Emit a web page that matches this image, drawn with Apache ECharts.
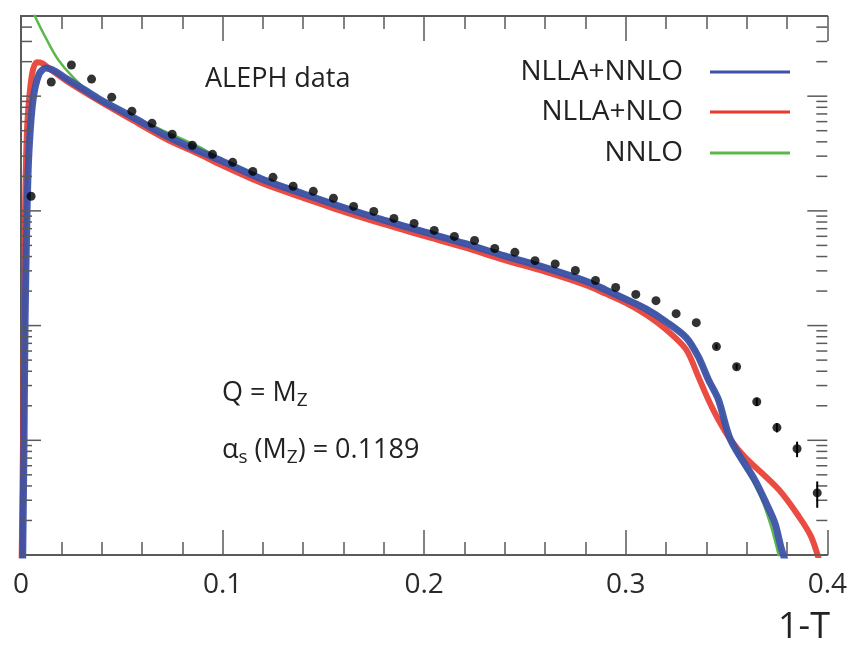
<!DOCTYPE html>
<html>
<head>
<meta charset="utf-8">
<script src="https://cdn.jsdelivr.net/npm/echarts@6/dist/echarts.min.js"></script>
<style>
html,body{margin:0;padding:0;background:#fff;}
#chart{width:850px;height:652px;}
</style>
</head>
<body>
<div id="chart"></div>
<script>
// ALEPH data: bin centres (1-T) and values
const dataX = [0.005,0.015,0.025,0.035,0.045,0.055,0.065,0.075,0.085,0.095,
               0.105,0.115,0.125,0.135,0.145,0.155,0.165,0.175,0.185,0.195,
               0.205,0.215,0.225,0.235,0.245,0.255,0.265,0.275,0.285,0.295,
               0.305,0.315,0.325,0.335,0.345,0.355,0.365,0.375,0.385,0.395];
const dataY = [1.34,13.3,18.7,14.1,9.8,7.4,5.8,4.66,3.73,3.11,
               2.65,2.21,1.96,1.64,1.48,1.29,1.094,0.99,0.86,0.778,
               0.676,0.599,0.552,0.47,0.435,0.368,0.345,0.302,0.247,0.215,
               0.187,0.165,0.127,0.106,0.0656,0.0438,0.0217,0.0129,0.00843,0.00348];
const dataErr = [0,0,0,0,0,0,0,0,0,0,
                 0,0,0,0,0,0,0,0,0,0,
                 0,0,0,0,0,0,0,0,0,0,
                 0,0,0,0,0.003,0.0025,0.0018,0.0012,0.0013,0.0009];

// NLLA+NNLO (blue)
const nnllaX = [0.0008,0.0015,0.002,0.003,0.004,0.006,0.009,0.0124,0.017,0.0228,
                0.0317,0.039,0.0554,0.0723,0.0886,0.10,0.12,0.14,0.16,0.18,
                0.20,0.22,0.24,0.26,0.28,0.29,0.30,0.31,0.32,0.330,
                0.336,0.341,0.346,0.352,0.364,0.369,0.374,0.377,0.380];
const nnllaY = [0.0008,0.01,0.1,1.0,3.4,9.4,15.6,17.6,16.5,14.1,
                11.3,9.4,6.56,4.48,3.3,2.7,1.88,1.41,1.07,0.83,
                0.655,0.52,0.405,0.32,0.245,0.205,0.17,0.14,0.108,0.0786,
                0.0536,0.0338,0.0226,0.0101,0.00452,0.0030,0.0019,0.00117,0.0008];

// NLLA+NLO (red)
const nlaX = [0.0003,0.001,0.0015,0.002,0.003,0.0045,0.006,0.008,0.0104,0.0144,
              0.0228,0.039,0.0554,0.0723,0.0886,0.10,0.12,0.14,0.16,0.18,
              0.20,0.22,0.24,0.26,0.28,0.29,0.30,0.31,0.32,0.330,
              0.336,0.341,0.346,0.352,0.359,0.376,0.386,0.392,0.3968];
const nlaY = [0.0008,0.01,0.1,1.0,5.15,11.5,17.2,19.8,19.4,17.2,
              13.5,9.04,6.17,4.21,3.11,2.48,1.73,1.3,0.985,0.765,
              0.605,0.48,0.372,0.295,0.226,0.19,0.158,0.125,0.0923,0.0617,
              0.0359,0.0226,0.0151,0.0101,0.00718,0.0037,0.00215,0.00144,0.0008];

// NNLO (green)
const nnloX = [0.0055,0.0069,0.0134,0.0183,0.0252,0.0332,0.0431,0.055,0.0723,0.0886,
               0.10,0.12,0.14,0.16,0.18,0.20,0.22,0.24,0.26,0.28,
               0.29,0.30,0.31,0.32,0.330,0.336,0.341,0.346,0.352,0.363,
               0.368,0.372,0.375,0.377];
const nnloY = [62,50,29.6,21,15,11.1,8.5,6.7,4.85,3.6,
               2.78,1.94,1.45,1.10,0.855,0.675,0.535,0.417,0.33,0.252,
               0.212,0.175,0.144,0.111,0.08,0.055,0.034,0.0225,0.0098,0.0044,
               0.0029,0.0018,0.00115,0.0008];

// Axis ticks
const xTickLabels = ['0','0.1','0.2','0.3','0.4'];
const yMajorTicks = [0.001,0.01,0.1,1,10];
const yMinorFactors = [2,3,4,5,6,7,8,9];

const X_MIN = 0, X_MAX = 0.4, Y_MIN = 0.001, Y_MAX = 50;

const zip = (xs, ys) => xs.map((x, i) => [x, ys[i]]);

const yTickData = [];
yMajorTicks.forEach(v => {
  yTickData.push([X_MIN, v, 1]);
  yMinorFactors.forEach(f => { const m = v * f; if (m < Y_MAX) yTickData.push([X_MIN, m, 0]); });
});

const errData = dataX.map((x, i) => [x, dataY[i], dataErr[i]]).filter(d => d[2] > 0);

const FONT = '"Open Sans", "Noto Sans", sans-serif';
const axisColor = '#5a5a5a';

const chart = echarts.init(document.getElementById('chart'), null, {renderer: 'canvas'});

const legendCommon = {
  orient: 'horizontal', right: 60, align: 'right', padding: 0,
  itemWidth: 80, itemHeight: 3, icon: 'rect',
  textStyle: {fontFamily: FONT, fontSize: 28, color: '#222', padding: [0, 22, 0, 0]}
};

const option = {
  animation: false,
  backgroundColor: '#fff',
  grid: {left: 21, right: 20, top: 16, bottom: 97, containLabel: false},
  legend: [
    Object.assign({}, legendCommon, {top: 58, data: ['NLLA+NNLO']}),
    Object.assign({}, legendCommon, {top: 98, data: ['NLLA+NLO']}),
    Object.assign({}, legendCommon, {top: 139, data: ['NNLO']})
  ],
  xAxis: [{
    type: 'value', min: X_MIN, max: X_MAX, interval: 0.1, position: 'bottom',
    axisLine: {show: true, lineStyle: {color: axisColor, width: 2}},
    axisTick: {show: true, inside: true, length: 25, lineStyle: {color: axisColor, width: 1.5}},
    minorTick: {show: true, splitNumber: 5, length: 13, lineStyle: {color: axisColor, width: 1.5}},
    splitLine: {show: false},
    axisLabel: {
      show: true, margin: 16, fontFamily: FONT, fontSize: 28, color: '#2a2a2a',
      formatter: v => xTickLabels[Math.round(v * 10)]
    }
  }, {
    type: 'value', min: X_MIN, max: X_MAX, interval: 0.1, position: 'top',
    axisLine: {show: true, lineStyle: {color: axisColor, width: 2}},
    axisTick: {show: true, inside: true, length: 25, lineStyle: {color: axisColor, width: 1.5}},
    minorTick: {show: true, splitNumber: 5, length: 13, lineStyle: {color: axisColor, width: 1.5}},
    splitLine: {show: false},
    axisLabel: {show: false}
  }],
  yAxis: [{
    type: 'log', logBase: 10, min: Y_MIN, max: Y_MAX, position: 'left',
    axisLine: {show: true, lineStyle: {color: axisColor, width: 2}},
    axisTick: {show: false}, splitLine: {show: false}, axisLabel: {show: false}
  }, {
    type: 'log', logBase: 10, min: Y_MIN, max: Y_MAX, position: 'right',
    axisLine: {show: true, lineStyle: {color: axisColor, width: 2}},
    axisTick: {show: false}, splitLine: {show: false}, axisLabel: {show: false}
  }],
  series: [
    {
      name: 'NLLA+NLO', type: 'line', data: zip(nlaX, nlaY), showSymbol: false, symbol: 'none',
      smooth: 0.3, clip: true, color: '#e8392c',
      lineStyle: {color: '#e8392c', width: 6, opacity: 0.9}, z: 2
    },
    {
      name: 'NNLO', type: 'line', data: zip(nnloX, nnloY), showSymbol: false, symbol: 'none',
      smooth: 0.3, clip: true, color: '#5cb84a',
      lineStyle: {color: '#5cb84a', width: 2.5}, z: 3
    },
    {
      name: 'NLLA+NNLO', type: 'line', data: zip(nnllaX, nnllaY), showSymbol: false, symbol: 'none',
      smooth: 0.3, clip: true, color: '#3c52a8',
      lineStyle: {color: '#3c52a8', width: 7, opacity: 0.95}, z: 4
    },
    {
      name: 'ALEPH data', type: 'scatter', data: zip(dataX, dataY), symbol: 'circle', symbolSize: 9,
      itemStyle: {color: '#000'}, z: 6
    },
    {
      name: 'errors', type: 'custom', data: errData, z: 6,
      renderItem: (params, api) => {
        const x = api.value(0), y = api.value(1), e = api.value(2);
        const p1 = api.coord([x, y - e]), p2 = api.coord([x, y + e]);
        return {type: 'line', shape: {x1: p1[0], y1: p1[1], x2: p2[0], y2: p2[1]},
                style: {stroke: '#000', lineWidth: 2}};
      }
    },
    {
      name: 'yticks', type: 'custom', data: yTickData, z: 5, silent: true,
      renderItem: (params, api) => {
        const v = api.value(1), major = api.value(2);
        const pL = api.coord([X_MIN, v]), pR = api.coord([X_MAX, v]);
        const len = major ? 20 : 11;
        return {type: 'group', children: [
          {type: 'line', shape: {x1: pL[0], y1: pL[1], x2: pL[0] + len, y2: pL[1]}, style: {stroke: axisColor, lineWidth: 1.5}},
          {type: 'line', shape: {x1: pR[0], y1: pR[1], x2: pR[0] - len, y2: pR[1]}, style: {stroke: axisColor, lineWidth: 1.5}}
        ]};
      }
    }
  ],
  graphic: [
    {type: 'text', left: 205, top: 66, style: {text: 'ALEPH data', fontFamily: FONT, fontSize: 27, fill: '#222'}},
    {type: 'text', left: 222, top: 380, style: {
      text: 'Q = M{sub|Z}', fontFamily: FONT, fontSize: 27, fill: '#222',
      rich: {sub: {fontFamily: FONT, fontSize: 19, fill: '#222', padding: [14, 0, 0, 0], verticalAlign: 'top'}}
    }},
    {type: 'text', left: 222, top: 437, style: {
      text: 'α{sub|s} (M{sub|Z}) = 0.1189', fontFamily: FONT, fontSize: 27, fill: '#222',
      rich: {sub: {fontFamily: FONT, fontSize: 19, fill: '#222', padding: [14, 0, 0, 0], verticalAlign: 'top'}}
    }},
    {type: 'text', right: 20, top: 610, style: {text: '1-T', fontFamily: FONT, fontSize: 36, fill: '#222'}}
  ]
};

chart.setOption(option);
</script>
</body>
</html>
